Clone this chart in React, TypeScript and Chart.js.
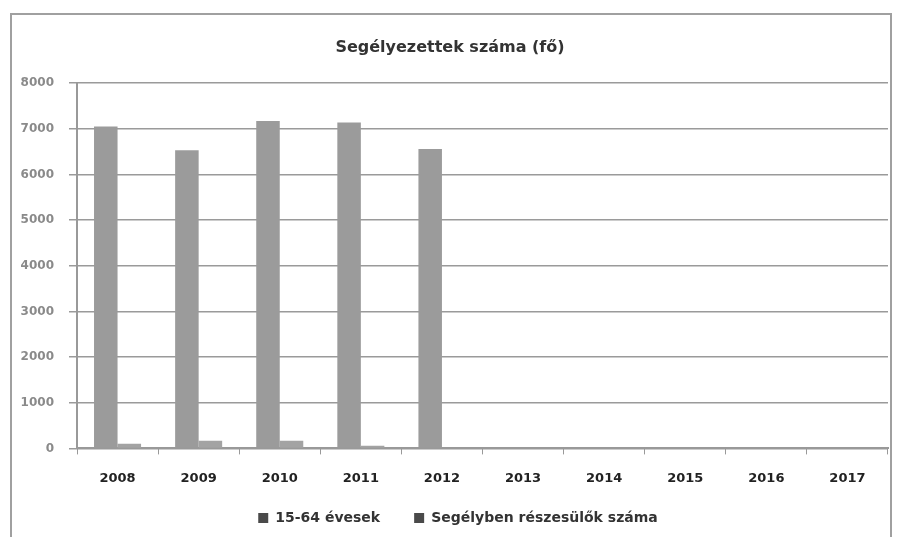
import React, { useEffect, useRef } from "react";
import { Chart, registerables } from "chart.js";

Chart.register(...registerables);

const categories = ["2008", "2009", "2010", "2011", "2012", "2013", "2014", "2015", "2016", "2017"];
const series1Label = "15-64 évesek";
const series2Label = "Segélyben részesülők száma";
const series1Values = [7050, 6530, 7170, 7140, 6560, null, null, null, null, null];
const series2Values = [100, 170, 170, 60, null, null, null, null, null, null];
const titleText = "Segélyezettek száma (fő)";

const FONT = "'DejaVu Sans', 'Open Sans', sans-serif";

const legendShift = {
  id: "legendShift",
  afterLayout(chart: any) {
    const lg = chart.legend;
    if (lg) {
      lg.top -= 25; lg.bottom -= 25;
      lg.left += 8; lg.right += 8;
    }
  },
};

export default function App() {
  const ref = useRef<HTMLCanvasElement | null>(null);
  useEffect(() => {
    if (!ref.current) return;
    const chart = new Chart(ref.current, {
      type: "bar",
      data: {
        labels: categories,
        datasets: [
          { label: series1Label, data: series1Values, backgroundColor: "#9b9b9b", borderWidth: 0, categoryPercentage: 0.58, barPercentage: 1 },
          { label: series2Label, data: series2Values, backgroundColor: "#a3a3a3", borderWidth: 0, categoryPercentage: 0.58, barPercentage: 1 },
        ],
      },
      plugins: [legendShift],
      options: {
        animation: false,
        responsive: false,
        maintainAspectRatio: false,
        layout: { padding: { left: 0, right: 2, top: 12, bottom: -23 } },
        plugins: {
          title: {
            display: true,
            text: titleText,
            color: "#333",
            font: { family: FONT, size: 16, weight: "bold" },
            padding: { top: 11, bottom: 26 },
          },
          legend: {
            position: "bottom",
            labels: {
              color: "#333",
              font: { family: FONT, size: 14, weight: "bold" },
              boxWidth: 10,
              boxHeight: 10,
              padding: 34,
              generateLabels: (c: any) => {
                const items = Chart.defaults.plugins.legend.labels.generateLabels(c);
                items.forEach((it: any) => { it.fillStyle = "#4a4a4a"; it.strokeStyle = "#4a4a4a"; it.lineWidth = 0; });
                return items;
              },
            },
          },
          tooltip: { enabled: false },
        },
        scales: {
          x: {
            grid: { display: true, drawOnChartArea: false, drawTicks: true, tickLength: 6, color: "#999", offset: true },
            border: { display: true, color: "#999", width: 2 },
            ticks: { color: "#222", font: { family: FONT, size: 13, weight: "bold" }, padding: 16 },
          },
          y: {
            min: 0,
            max: 8000,
            ticks: {
              stepSize: 1000,
              color: "#8a8a8a",
              font: { family: FONT, size: 12, weight: "bold" },
              padding: 15,
              callback: (v: any) => String(v),
            },
            grid: { color: "#9a9a9a", lineWidth: 1.5, tickLength: 8 },
            border: { display: true, color: "#999", width: 2 },
            afterFit: (scale: any) => { scale.width = 65; },
          },
        },
      },
    });
    return () => chart.destroy();
  }, []);
  return (
    <div style={{ position: "absolute", left: 0, top: 0, width: 898, height: 537, background: "#fff", overflow: "hidden" }}>
      <div style={{ position: "absolute", left: 10, top: 13, width: 878, height: 530, border: "2px solid #a0a0a0", borderBottom: "none" }}>
        <canvas ref={ref} width={878} height={522} style={{ display: "block" }} />
      </div>
    </div>
  );
}
